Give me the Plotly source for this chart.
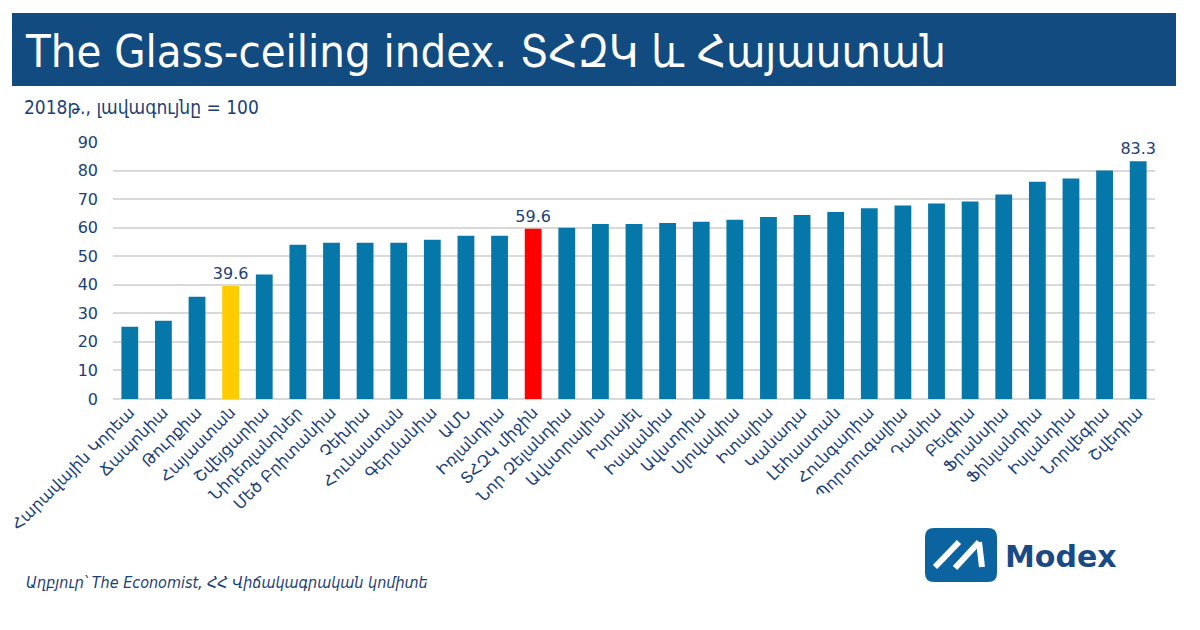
import plotly.graph_objects as go

categories = ["Հարավային Կորեա", "Ճապոնիա", "Թուրքիա", "Հայաստան", "Շվեյցարիա",
              "Նիդեռլանդներ", "Մեծ Բրիտանիա", "Չեխիա", "Հունաստան", "Գերմանիա",
              "ԱՄՆ", "Իռլանդիա", "ՏՀԶԿ միջին", "Նոր Զելանդիա", "Ավստրալիա",
              "Իսրայել", "Իսպանիա", "Ավստրիա", "Սլովակիա", "Իտալիա",
              "Կանադա", "Լեհաստան", "Հունգարիա", "Պորտուգալիա", "Դանիա",
              "Բելգիա", "Ֆրանսիա", "Ֆինլանդիա", "Իսլանդիա", "Նորվեգիա", "Շվեդիա"]
values = [25.3, 27.4, 35.8, 39.6, 43.6,
          54.0, 54.7, 54.7, 54.7, 55.8,
          57.2, 57.2, 59.6, 60.0, 61.3,
          61.3, 61.6, 62.1, 62.8, 63.7,
          64.4, 65.5, 66.8, 67.8, 68.5,
          69.2, 71.6, 76.1, 77.2, 80.0, 83.3]
labeled = ["Հայաստան", "ՏՀԶԿ միջին", "Շվեդիա"]
y_ticks = [0, 10, 20, 30, 40, 50, 60, 70, 80, 90]

BLUE = "#0677a9"
YELLOW = "#ffcc00"
RED = "#ff0000"
NAVY = "#1b3f78"

colors = [YELLOW if c == "Հայաստան" else RED if c == "ՏՀԶԿ միջին" else BLUE for c in categories]
texts = [f"{v:.1f}" if c in labeled else "" for c, v in zip(categories, values)]

OFF = 8  # page body margin offset
W, H = 1200 - OFF, 630 - OFF
L, R, T, B = 113 - OFF, 45, 142 - OFF, 231
PW, PH = W - L - R, H - T - B


def px(x):
    return (x - OFF - L) / PW


def py(y):
    return (H - B - (y - OFF)) / PH


fig = go.Figure(go.Bar(
    x=categories, y=values,
    marker=dict(color=colors, line=dict(width=0)),
    text=texts, textposition="outside", cliponaxis=False, constraintext="none",
    textfont=dict(family="DejaVu Sans", size=16, color=NAVY),
    width=0.5,
))

shapes = []
# title banner
shapes.append(dict(type="rect", xref="paper", yref="paper",
                   x0=px(12), x1=px(1176), y0=py(86), y1=py(13),
                   fillcolor="#124b80", line=dict(width=0), layer="below"))
# logo rounded square
x0, x1, y0, y1, r = 925, 997, 528, 582, 9
path = (f"M {px(x0 + r)},{py(y0)} L {px(x1 - r)},{py(y0)} "
        f"Q {px(x1)},{py(y0)} {px(x1)},{py(y0 + r)} L {px(x1)},{py(y1 - r)} "
        f"Q {px(x1)},{py(y1)} {px(x1 - r)},{py(y1)} L {px(x0 + r)},{py(y1)} "
        f"Q {px(x0)},{py(y1)} {px(x0)},{py(y1 - r)} L {px(x0)},{py(y0 + r)} "
        f"Q {px(x0)},{py(y0)} {px(x0 + r)},{py(y0)} Z")
shapes.append(dict(type="path", xref="paper", yref="paper", path=path,
                   fillcolor="#0b649f", line=dict(width=0)))
# white strokes of logo
for (ax, ay, bx, by) in [(935, 567, 959, 542), (955, 568, 979, 542), (979, 542, 982, 567)]:
    shapes.append(dict(type="line", xref="paper", yref="paper",
                       x0=px(ax), y0=py(ay), x1=px(bx), y1=py(by),
                       line=dict(color="white", width=6)))

annotations = [
    dict(text="The Glass-ceiling index. ՏՀԶԿ և Հայաստան", xref="paper", yref="paper",
         x=px(23), y=py(52), xanchor="left", yanchor="middle", showarrow=False,
         font=dict(family="DejaVu Sans Condensed", size=45, color="white")),
    dict(text="2018թ., լավագույնը = 100", xref="paper", yref="paper",
         x=px(22), y=py(107), xanchor="left", yanchor="middle", showarrow=False,
         font=dict(family="DejaVu Sans Condensed", size=19, color=NAVY)),
    dict(text="<i>Աղբյուր՝ The Economist, ՀՀ Վիճակագրական կոմիտե</i>", xref="paper", yref="paper",
         x=px(24), y=py(582), xanchor="left", yanchor="middle", showarrow=False,
         font=dict(family="DejaVu Sans Condensed", size=16, color=NAVY)),
    dict(text="<b>Modex</b>", xref="paper", yref="paper",
         x=px(1003), y=py(556), xanchor="left", yanchor="middle", showarrow=False,
         font=dict(family="DejaVu Sans", size=30, color="#1a4a86")),
]

fig.update_layout(
    width=W, height=H,
    margin=dict(l=L, r=R, t=T, b=B, autoexpand=False),
    paper_bgcolor="white", plot_bgcolor="white",
    showlegend=False,
    shapes=shapes, annotations=annotations,
    xaxis=dict(tickangle=-45, tickfont=dict(family="DejaVu Sans", size=16, color=NAVY),
               showgrid=False, showline=False, ticks="", automargin=False),
    yaxis=dict(range=[0, 90], tickvals=y_ticks, showgrid=True, gridcolor="#d9d9d9",
               gridwidth=1.5, zeroline=True, zerolinecolor="#d9d9d9", zerolinewidth=1.5,
               tickfont=dict(family="DejaVu Sans", size=16, color=NAVY),
               ticks="", ticklen=0, ticklabelstandoff=14, automargin=False),
    font=dict(family="DejaVu Sans"),
)

fig.write_html("out.html")
